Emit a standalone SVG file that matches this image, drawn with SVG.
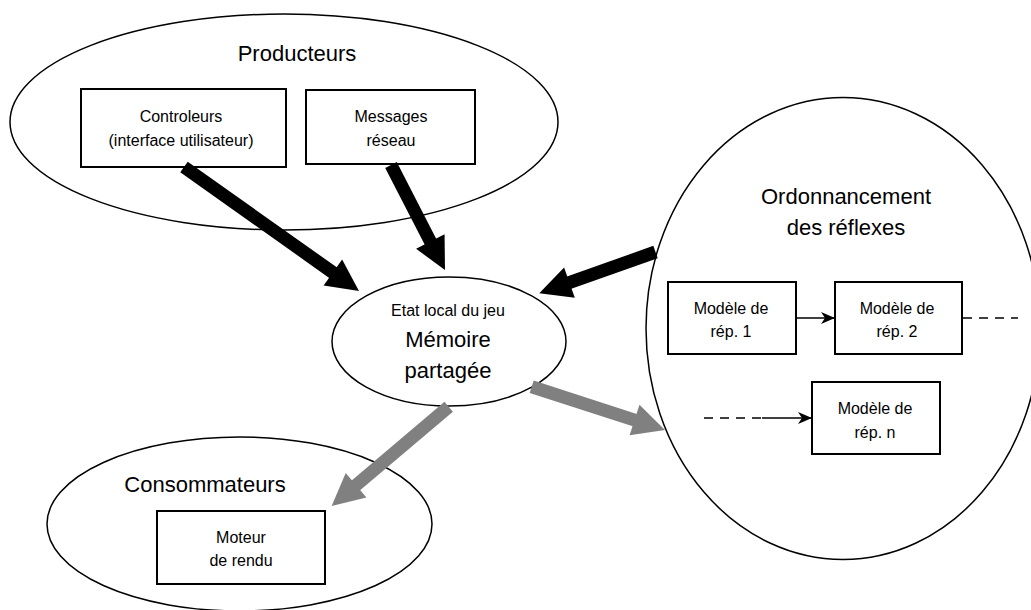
<svg xmlns="http://www.w3.org/2000/svg" width="1031" height="610" viewBox="0 0 1031 610">
<style>
  .ell { fill: #fff; stroke: #000; stroke-width: 1.5; }
  .box { fill: #fff; stroke: #000; stroke-width: 2; }
  text { font-family: "Liberation Sans", Arial, sans-serif; fill: #000; text-anchor: middle; }
  .big { font-size: 22px; }
  .small { font-size: 16px; }
  .thick-b { stroke: #000; stroke-width: 13; fill: none; marker-end: url(#headB); }
  .thick-g { stroke: #808080; stroke-width: 13; fill: none; marker-end: url(#headG); }
  .thin { stroke: #000; stroke-width: 1.5; fill: none; }
  .dash { stroke-dasharray: 9 7; }
</style>
<defs>
  <marker id="headB" markerUnits="userSpaceOnUse" orient="auto" refX="0" refY="0" markerWidth="40" markerHeight="40" style="overflow:visible">
    <path d="M-1,-16 L31,0 L-1,16 z" fill="#000"/>
  </marker>
  <marker id="headG" markerUnits="userSpaceOnUse" orient="auto" refX="0" refY="0" markerWidth="40" markerHeight="40" style="overflow:visible">
    <path d="M-1,-16 L31,0 L-1,16 z" fill="#808080"/>
  </marker>
  <marker id="headS" markerUnits="userSpaceOnUse" orient="auto" refX="0" refY="0" markerWidth="20" markerHeight="20" style="overflow:visible">
    <path d="M0,0 L-14,-6 L-10,0 L-14,6 z" fill="#000"/>
  </marker>
</defs>
<rect width="1031" height="610" fill="#fff"/>

<g id="producteurs">
  <ellipse class="ell" cx="284" cy="122" rx="274" ry="108"/>
  <text class="big" x="297" y="61">Producteurs</text>
</g>
<g id="controleurs">
  <rect class="box" x="81" y="89" width="205" height="78"/>
  <text class="small" x="181" y="122">Controleurs</text>
  <text class="small" x="181" y="146">(interface utilisateur)</text>
</g>
<g id="messages">
  <rect class="box" x="306" y="90" width="169" height="74"/>
  <text class="small" x="391" y="122">Messages</text>
  <text class="small" x="391" y="146">réseau</text>
</g>

<g id="memoire">
  <ellipse class="ell" cx="449" cy="341.5" rx="117" ry="64.5"/>
  <text class="small" x="448" y="316">Etat local du jeu</text>
  <text class="big" x="448" y="347">Mémoire</text>
  <text class="big" x="448" y="378">partagée</text>
</g>

<g id="consommateurs">
  <ellipse class="ell" cx="239.5" cy="524" rx="192.5" ry="87"/>
  <text class="big" x="205" y="492">Consommateurs</text>
</g>
<g id="moteur">
  <rect class="box" x="157" y="511" width="168" height="73"/>
  <text class="small" x="241" y="543">Moteur</text>
  <text class="small" x="241" y="566">de rendu</text>
</g>

<g id="ordonnancement">
  <ellipse class="ell" cx="843" cy="328.5" rx="197" ry="231"/>
  <text class="big" x="846" y="204">Ordonnancement</text>
  <text class="big" x="846" y="235">des réflexes</text>
</g>
<g id="modele1">
  <rect class="box" x="668" y="282" width="128" height="72"/>
  <text class="small" x="731" y="314">Modèle de</text>
  <text class="small" x="731" y="337">rép. 1</text>
</g>
<g id="modele2">
  <rect class="box" x="835" y="282" width="127" height="72"/>
  <text class="small" x="897" y="314">Modèle de</text>
  <text class="small" x="897" y="337">rép. 2</text>
</g>
<g id="modelen">
  <rect class="box" x="812" y="382" width="128" height="72"/>
  <text class="small" x="875" y="414">Modèle de</text>
  <text class="small" x="875" y="438">rép. n</text>
</g>

<g id="connectors">
  <line class="thick-b" x1="184" y1="167" x2="333.7" y2="273.1"/>
  <line class="thick-b" x1="391" y1="165" x2="430.8" y2="242.4"/>
  <line class="thick-b" x1="655.5" y1="252" x2="568.5" y2="282.9"/>
  <line class="thick-g" x1="448.7" y1="406.7" x2="355.3" y2="485.9"/>
  <line class="thick-g" x1="531.7" y1="386.7" x2="635.5" y2="420.4"/>
  <line class="thin" x1="796" y1="318" x2="835" y2="318" marker-end="url(#headS)"/>
  <line class="thin dash" x1="963" y1="318" x2="1018" y2="318"/>
  <line class="thin dash" x1="704" y1="418" x2="762" y2="418"/>
  <line class="thin" x1="762" y1="418" x2="812" y2="418" marker-end="url(#headS)"/>
</g>
</svg>
